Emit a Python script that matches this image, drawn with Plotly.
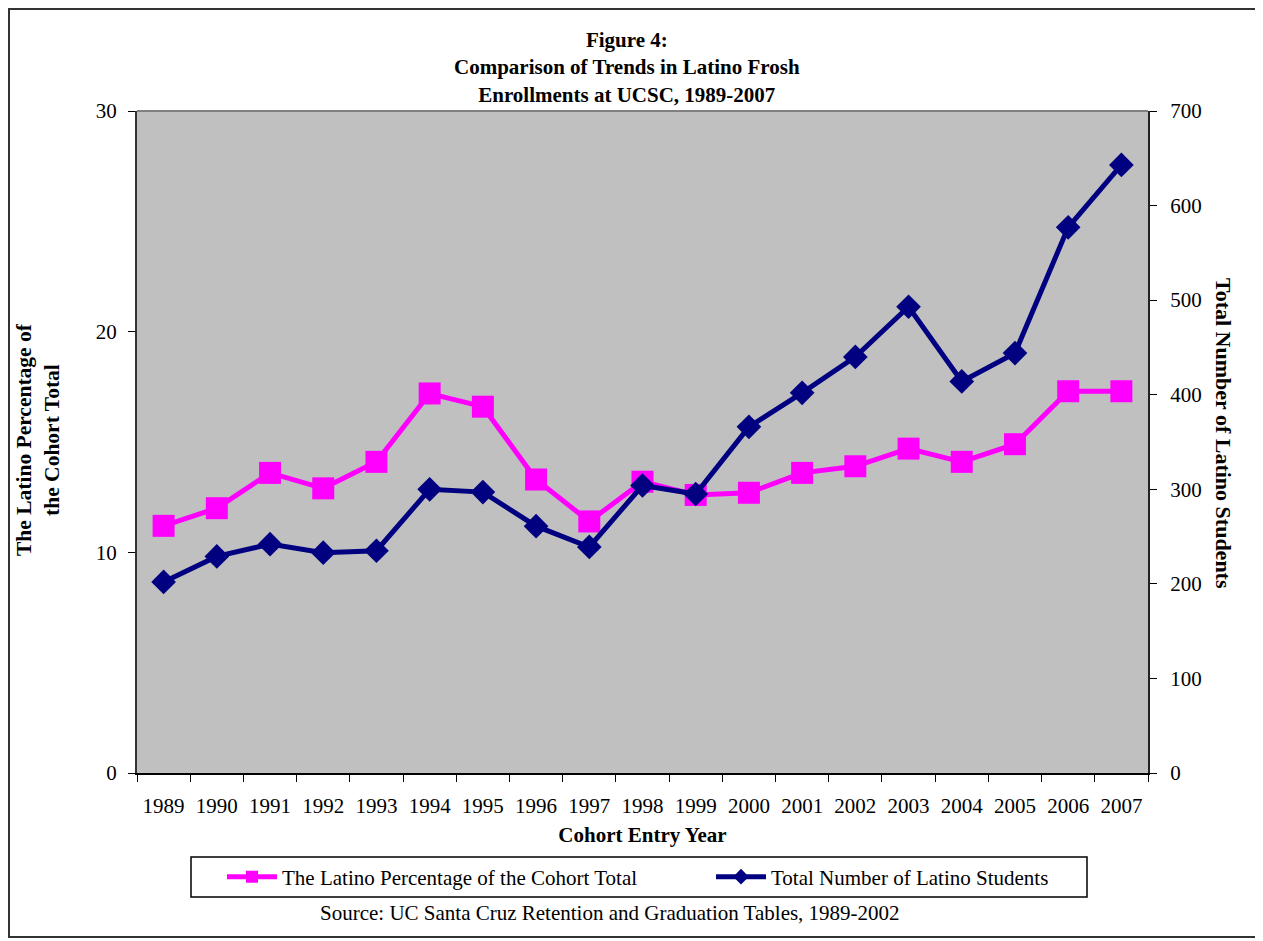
import plotly.graph_objects as go

# cohort entry years (categories)
years = ['1989', '1990', '1991', '1992', '1993', '1994', '1995', '1996', '1997', '1998',
         '1999', '2000', '2001', '2002', '2003', '2004', '2005', '2006', '2007']

# Latino share of the cohort, percent (left axis)
latino_pct = [11.2, 12.0, 13.6, 12.9, 14.1, 17.2, 16.6, 13.3, 11.4, 13.2,
              12.6, 12.7, 13.6, 13.9, 14.7, 14.1, 14.9, 17.3, 17.3]

# total number of Latino frosh (right axis)
latino_total = [202, 229, 242, 233, 235, 300, 297, 261, 239, 304,
                295, 366, 402, 440, 493, 414, 444, 577, 643]

left_ticks = [0, 10, 20, 30]
right_ticks = [0, 100, 200, 300, 400, 500, 600, 700]

# the page body adds an 8px margin, so the figure is drawn 8px smaller
# and every position below is given in screen pixels minus that offset
OFF = 8
W, H = 1263 - OFF, 941 - OFF
ML, MT = 137 - OFF, 111 - OFF
PW, PH = 1148 - 137, 773 - 111
MR, MB = W - ML - PW, H - MT - PH

FONT = 'Liberation Serif, Times New Roman, serif'
FS = 21


def px_x(x):
    return (x - OFF - ML) / PW


def px_y(y):
    return (MT + PH - (y - OFF)) / PH


fig = go.Figure()
fig.add_trace(go.Scatter(
    x=years, y=latino_pct, mode='lines+markers',
    name='The Latino Percentage of the Cohort Total',
    line=dict(color='#FF00FF', width=5),
    marker=dict(symbol='square', size=22, color='#FF00FF'),
    yaxis='y'
))
fig.add_trace(go.Scatter(
    x=years, y=latino_total, mode='lines+markers',
    name='Total Number of Latino Students',
    line=dict(color='#000080', width=5),
    marker=dict(symbol='diamond', size=19, color='#000080'),
    yaxis='y2'
))

fig.update_layout(
    width=W, height=H,
    margin=dict(l=ML, r=MR, t=MT, b=MB),
    paper_bgcolor='white',
    plot_bgcolor='#C0C0C0',
    font=dict(family=FONT, size=FS, color='black'),
    xaxis=dict(
        type='category', tickson='boundaries', ticks='outside', ticklen=7,
        tickcolor='black', showgrid=False, zeroline=False,
        showline=True, linecolor='black', linewidth=2,
        tickfont=dict(size=FS), ticklabelstandoff=13,
        title=dict(text='<b>Cohort Entry Year</b>', standoff=10, font=dict(size=FS)),
        range=[-0.5, len(years) - 0.5]
    ),
    yaxis=dict(
        range=[0, 30], tickvals=left_ticks, ticks='outside', ticklen=7,
        tickcolor='black', showgrid=False, zeroline=False,
        showline=True, linecolor='#333333', linewidth=2,
        tickfont=dict(size=FS), ticklabelstandoff=7
    ),
    yaxis2=dict(
        range=[0, 700], tickvals=right_ticks, overlaying='y', side='right',
        ticks='outside', ticklen=7, tickcolor='black',
        showgrid=False, zeroline=False,
        showline=True, linecolor='#222222', linewidth=2,
        tickfont=dict(size=FS), ticklabelstandoff=9
    ),
    legend=dict(
        orientation='h', x=px_x(222), xanchor='left',
        y=px_y(877), yanchor='middle',
        bgcolor='rgba(0,0,0,0)', borderwidth=0,
        font=dict(size=FS), entrywidth=424, entrywidthmode='pixels',
        itemwidth=50, itemsizing='constant', traceorder='normal'
    ),
    showlegend=True
)

fig.add_annotation(
    text='<b>Figure 4:<br>Comparison of Trends in Latino Frosh<br>Enrollments at UCSC, 1989-2007</b>',
    xref='paper', yref='paper', x=px_x(627), y=px_y(68),
    xanchor='center', yanchor='middle', showarrow=False,
    font=dict(family=FONT, size=FS, color='black')
)
fig.add_annotation(
    text='<b>The Latino Percentage of<br>the Cohort Total</b>',
    xref='paper', yref='paper', x=px_x(38), y=px_y(440),
    xanchor='center', yanchor='middle', textangle=-90, showarrow=False,
    font=dict(family=FONT, size=21.5, color='black')
)
fig.add_annotation(
    text='<b>Total Number of Latino Students</b>',
    xref='paper', yref='paper', x=px_x(1223), y=px_y(433),
    xanchor='center', yanchor='middle', textangle=90, showarrow=False,
    font=dict(family=FONT, size=22, color='black')
)
fig.add_annotation(
    text='Source: UC Santa Cruz Retention and Graduation Tables, 1989-2002',
    xref='paper', yref='paper', x=px_x(318), y=px_y(913),
    xanchor='left', yanchor='middle', showarrow=False,
    font=dict(family=FONT, size=FS, color='black')
)

# grey top edge of the plot area
fig.add_shape(type='line', xref='paper', yref='paper', x0=0, x1=1, y0=1, y1=1,
              line=dict(color='#808080', width=2))
# legend frame
fig.add_shape(type='rect', xref='paper', yref='paper', layer='below',
              x0=px_x(191), x1=px_x(1087), y0=px_y(897), y1=px_y(857),
              line=dict(color='black', width=1.5), fillcolor='white')
# outer chart border
fig.add_shape(type='rect', xref='paper', yref='paper', layer='below',
              x0=px_x(OFF + 1), x1=px_x(1259), y0=px_y(937), y1=px_y(OFF + 1),
              line=dict(color='#333333', width=2))

fig.write_html('out.html')
